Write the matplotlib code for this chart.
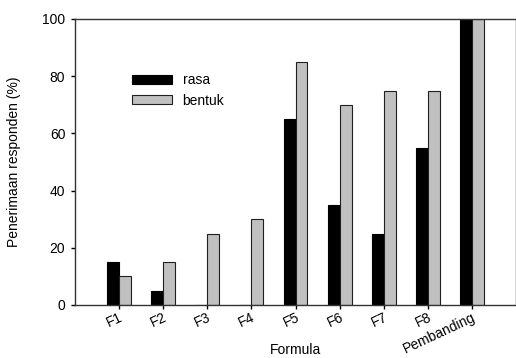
import matplotlib.pyplot as plt
import numpy as np

plt.rcParams['font.family'] = ['Liberation Sans', 'DejaVu Sans']

categories = ['F1', 'F2', 'F3', 'F4', 'F5', 'F6', 'F7', 'F8', 'Pembanding']
rasa = [15, 5, 0, 0, 65, 35, 25, 55, 100]
bentuk = [10, 15, 25, 30, 85, 70, 75, 75, 100]

fig = plt.figure(figsize=(5.16, 3.58), dpi=100)
ax = fig.add_axes([75 / 516, 53 / 358, 441 / 516, 286 / 358])

x = np.arange(len(categories))
w = 0.27
ax.bar(x - w / 2, rasa, w, color='black', edgecolor='black', linewidth=0.8, label='rasa')
ax.bar(x + w / 2, bentuk, w, color='#c0c0c0', edgecolor='#202020', linewidth=0.8, label='bentuk')

ax.set_xlim(-1, 9)
ax.set_ylim(0, 100)
ax.set_yticks([0, 20, 40, 60, 80, 100])
ax.set_xticks(x)
ax.set_xticklabels(categories, rotation=25, ha='right', rotation_mode='anchor')
ax.tick_params(labelsize=10, direction='out', length=3, width=1)
ax.tick_params(axis='x', pad=1)
ax.tick_params(axis='y', pad=4)

for s in ax.spines.values():
    s.set_color('#333333')
    s.set_linewidth(1)

ax.set_ylabel('Penerimaan responden (%)', fontsize=10)
ax.yaxis.set_label_coords(-0.138, 0.5)
ax.yaxis.label.set_va('center')
ax.set_xlabel('Formula', fontsize=10)
ax.xaxis.set_label_coords(0.5, -0.157)
ax.xaxis.label.set_va('center')

ax.legend(loc='upper left', bbox_to_anchor=(0.129, 0.81), frameon=False, fontsize=10,
          handlelength=2.9, handleheight=0.55, handletextpad=0.75, labelspacing=0.45,
          borderpad=0, borderaxespad=0)

fig.savefig('out.png', dpi=100)
